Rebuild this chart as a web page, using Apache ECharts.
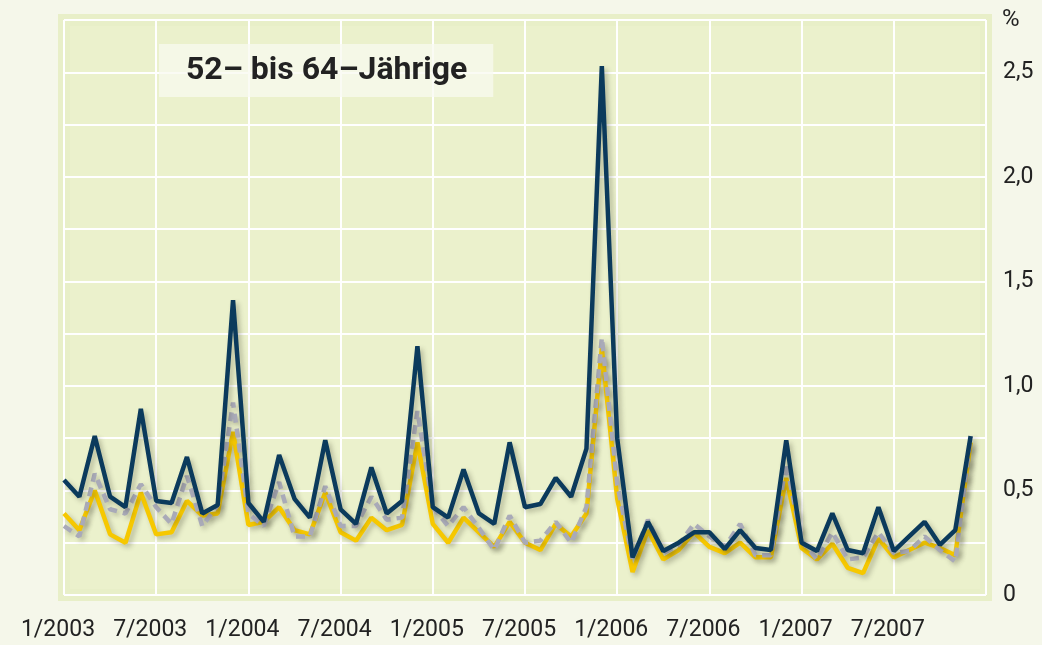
<!DOCTYPE html>
<html>
<head>
<meta charset="utf-8">
<script src="https://cdn.jsdelivr.net/npm/echarts@6/dist/echarts.min.js"></script>
<style>
    html, body { margin: 0; padding: 0; background: #f5f7ea; }
    #chart { width: 1042px; height: 645px; }
</style>
</head>
<body>
<div id="chart"></div>
<script>
// Monatswerte 1/2003 bis 12/2007 (in %)
var months = [];
for (var y = 2003; y <= 2008; y++) {
    for (var m = 1; m <= 12; m++) {
        if (y === 2008 && m > 1) break;
        months.push(m + '/' + y);
    }
}

var navyValues = [
    0.55, 0.47, 0.76, 0.47, 0.42, 0.89, 0.45, 0.44, 0.66, 0.39, 0.43, 1.41,
    0.44, 0.35, 0.67, 0.46, 0.37, 0.74, 0.41, 0.34, 0.61, 0.39, 0.45, 1.19,
    0.42, 0.37, 0.60, 0.39, 0.34, 0.73, 0.42, 0.435, 0.56, 0.47, 0.70, 2.53,
    0.75, 0.18, 0.35, 0.21, 0.25, 0.30, 0.30, 0.22, 0.31, 0.225, 0.215, 0.74,
    0.25, 0.21, 0.39, 0.215, 0.20, 0.42, 0.21, 0.28, 0.35, 0.24, 0.31, 0.76
];
var yellowValues = [
    0.39, 0.31, 0.50, 0.29, 0.25, 0.49, 0.29, 0.30, 0.45, 0.38, 0.39, 0.78,
    0.335, 0.35, 0.42, 0.31, 0.29, 0.49, 0.30, 0.26, 0.37, 0.31, 0.335, 0.73,
    0.34, 0.25, 0.37, 0.30, 0.23, 0.35, 0.25, 0.215, 0.34, 0.28, 0.39, 1.18,
    0.46, 0.11, 0.31, 0.17, 0.215, 0.30, 0.23, 0.20, 0.25, 0.18, 0.18, 0.56,
    0.225, 0.17, 0.245, 0.13, 0.105, 0.27, 0.18, 0.215, 0.25, 0.225, 0.19, 0.73
];
var grayValues = [
    0.33, 0.28, 0.58, 0.41, 0.39, 0.53, 0.42, 0.34, 0.57, 0.33, 0.43, 0.92,
    0.39, 0.33, 0.54, 0.28, 0.28, 0.52, 0.33, 0.33, 0.47, 0.36, 0.37, 0.88,
    0.42, 0.33, 0.42, 0.32, 0.215, 0.38, 0.25, 0.26, 0.35, 0.25, 0.42, 1.23,
    0.53, 0.17, 0.36, 0.20, 0.24, 0.34, 0.28, 0.23, 0.34, 0.19, 0.19, 0.63,
    0.26, 0.17, 0.30, 0.17, 0.18, 0.30, 0.20, 0.21, 0.28, 0.215, 0.16, 0.76
];
var yTickLabels = { '0': '0', '0.5': '0,5', '1': '1,0', '1.5': '1,5', '2': '2,0', '2.5': '2,5' };

var chart = echarts.init(document.getElementById('chart'));

function lineSeries(name, data, color, dashed, z) {
    return {
        type: 'line',
        name: name,
        data: data,
        symbol: 'none',
        z: z,
        lineStyle: {
            color: color,
            width: 4.5,
            type: dashed ? [9, 6] : 'solid',
            shadowColor: 'rgba(60,60,40,0.3)',
            shadowBlur: 5,
            shadowOffsetX: 3,
            shadowOffsetY: 3
        }
    };
}

var option = {
    animation: false,
    backgroundColor: '#f5f7ea',
    textStyle: { fontFamily: 'Roboto' },
    title: {
        text: '52– bis 64–Jährige',
        left: 159,
        top: 44,
        padding: [10, 26, 10, 27],
        backgroundColor: 'rgba(248,250,240,0.75)',
        textStyle: {
            fontFamily: 'Roboto',
            fontWeight: 'bold',
            fontSize: 32,
            lineHeight: 33,
            color: '#222'
        }
    },
    graphic: [{
        type: 'text',
        left: 1002,
        top: 8,
        style: { text: '%', font: 'normal 24px Roboto', fill: '#222' }
    }],
    grid: {
        left: 64,
        right: 56,
        top: 20,
        bottom: 50,
        show: true,
        backgroundColor: '#ebf1cc',
        borderColor: '#e8efc8',
        borderWidth: 12
    },
    xAxis: {
        type: 'category',
        boundaryGap: false,
        data: months,
        axisLine: { show: false },
        axisTick: { show: false },
        axisLabel: {
            interval: 5,
            margin: 24,
            fontSize: 23,
            color: '#222',
            padding: [0, 12, 0, 0],
            formatter: function (v, i) { return i === months.length - 1 ? '' : v; }
        },
        splitLine: { show: true, interval: 5, lineStyle: { color: '#ffffff', width: 2 } }
    },
    yAxis: {
        type: 'value',
        position: 'right',
        min: 0,
        max: 2.75,
        interval: 0.25,
        axisLine: { show: false },
        axisTick: { show: false },
        axisLabel: {
            margin: 17,
            fontSize: 23,
            color: '#222',
            padding: [10, 0, 0, 0],
            formatter: function (v) {
                var k = String(Math.round(v * 100) / 100);
                return yTickLabels[k] !== undefined ? yTickLabels[k] : '';
            }
        },
        splitLine: { show: true, lineStyle: { color: '#ffffff', width: 2 } }
    },
    series: [
        lineSeries('gelb', yellowValues, '#f6c800', false, 2),
        lineSeries('grau', grayValues, '#a9aab8', true, 3),
        lineSeries('blau', navyValues, '#0b3a5c', false, 4)
    ]
};
chart.setOption(option);
window.addEventListener('resize', function () {
    chart.resize();
});
</script>
</body>
</html>
